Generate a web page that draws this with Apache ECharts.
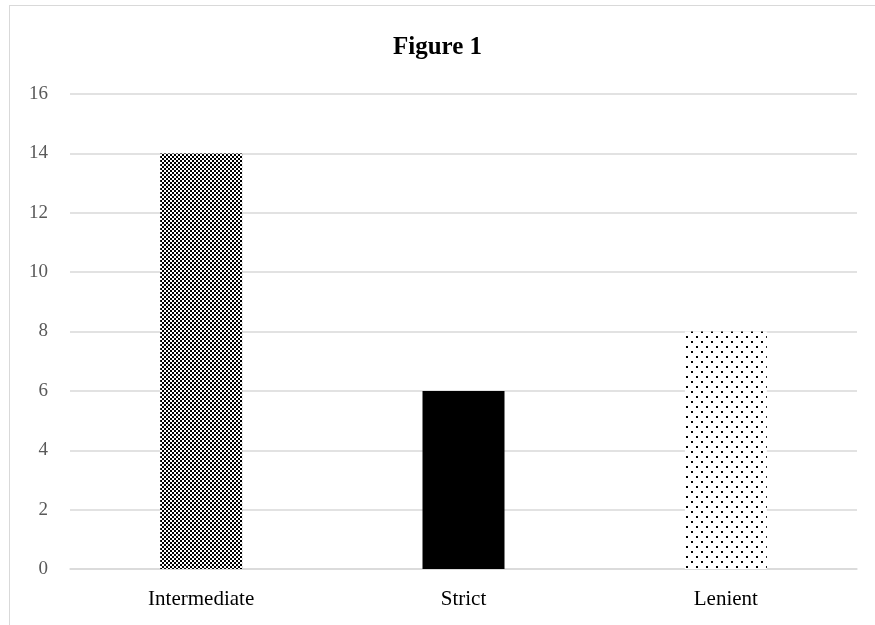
<!DOCTYPE html>
<html>
<head>
<meta charset="utf-8">
<script src="https://cdn.jsdelivr.net/npm/echarts@6/dist/echarts.min.js"></script>
<style>
html, body { margin: 0; padding: 0; background: #fff; overflow: hidden; }
#frame { position: absolute; left: 9px; top: 5px; width: 900px; height: 700px; border: 1.5px solid #d9d9d9; }
#chart { position: absolute; left: 0; top: 0; width: 875px; height: 625px; }
</style>
</head>
<body>
<div id="frame"></div>
<div id="chart"></div>
<script>
var categories = ['Intermediate', 'Strict', 'Lenient']
var values = [14, 6, 8]
var yTicks = [0, 2, 4, 6, 8, 10, 12, 14, 16]

// fill patterns for the bars
function checker () {
  var c = document.createElement('canvas')
  c.width = 4; c.height = 4
  var ctx = c.getContext('2d')
  ctx.fillStyle = '#fff'; ctx.fillRect(0, 0, 4, 4)
  ctx.fillStyle = '#000'
  ctx.fillRect(0, 0, 2, 2); ctx.fillRect(2, 2, 2, 2)
  return c
}
function dots () {
  var c = document.createElement('canvas')
  c.width = 10; c.height = 10
  var ctx = c.getContext('2d')
  ctx.fillStyle = '#fff'; ctx.fillRect(0, 0, 10, 10)
  ctx.fillStyle = '#000'
  ctx.fillRect(1, 1, 2, 2); ctx.fillRect(6, 6, 2, 2)
  return c
}
var fills = [
  { image: checker(), repeat: 'repeat' },
  '#000',
  { image: dots(), repeat: 'repeat' }
]

var chart = echarts.init(document.getElementById('chart'))
var option = {
  backgroundColor: 'transparent',
  animation: false,
  title: {
    text: 'Figure 1',
    left: 'center',
    top: 30,
    textStyle: { fontFamily: 'Liberation Serif', fontWeight: 'bold', fontSize: 25, color: '#000' }
  },
  grid: { left: 70, right: 18, top: 94, bottom: 56 },
  xAxis: {
    type: 'category',
    data: categories,
    axisLine: { lineStyle: { color: '#d9d9d9', width: 1.5 } },
    axisTick: { show: false },
    axisLabel: { fontFamily: 'Liberation Serif', fontSize: 21, color: '#000', margin: 20 }
  },
  yAxis: {
    type: 'value',
    min: yTicks[0],
    max: yTicks[yTicks.length - 1],
    interval: 2,
    axisLine: { show: false },
    axisTick: { show: false },
    splitLine: { lineStyle: { color: '#d9d9d9', width: 1.5 } },
    axisLabel: { fontFamily: 'Liberation Serif', fontSize: 19, color: '#595959', margin: 22 }
  },
  series: [{
    type: 'bar',
    barWidth: 82,
    data: values.map(function (v, i) {
      return { value: v, itemStyle: { color: fills[i] } }
    })
  }]
}
chart.setOption(option)
window.onresize = function () { chart.resize() }
</script>
</body>
</html>
